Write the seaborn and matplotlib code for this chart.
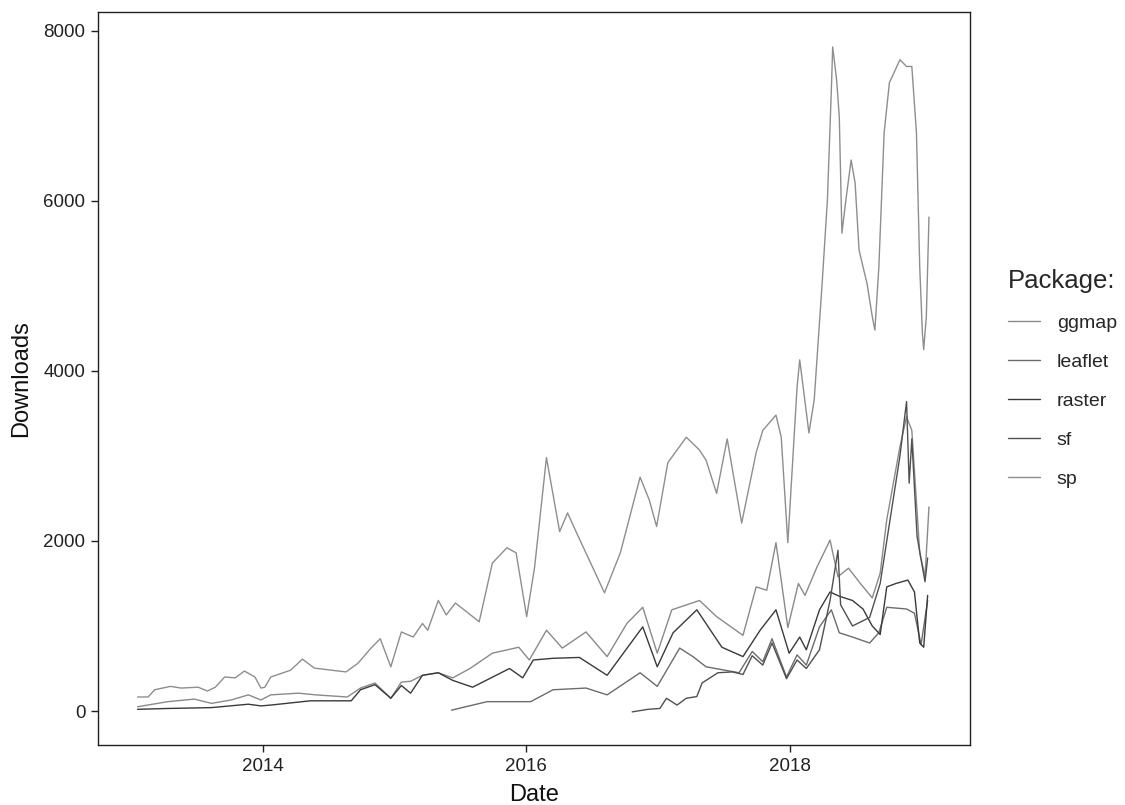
import matplotlib
matplotlib.use("Agg")
import matplotlib.pyplot as plt
import matplotlib.dates as mdates
import seaborn as sns
import pandas as pd

# values (decimal year, downloads per day)
sp_years = [2013.05, 2013.13, 2013.18, 2013.30, 2013.38, 2013.51, 2013.58, 2013.64, 2013.71, 2013.79, 2013.86, 2013.94, 2013.985,
            2014.015, 2014.06, 2014.21, 2014.30, 2014.39, 2014.52, 2014.63, 2014.72, 2014.82, 2014.89, 2014.97,
            2015.05, 2015.14, 2015.21, 2015.25, 2015.33, 2015.39, 2015.46, 2015.64, 2015.74, 2015.85, 2015.92,
            2016.00, 2016.06, 2016.15, 2016.25, 2016.31, 2016.38, 2016.59, 2016.71, 2016.86, 2016.93, 2016.985,
            2017.07, 2017.21, 2017.31, 2017.36, 2017.44, 2017.52, 2017.63, 2017.74, 2017.79, 2017.89, 2017.93, 2017.98,
            2018.05, 2018.07, 2018.14, 2018.18, 2018.24, 2018.28, 2018.31, 2018.32, 2018.35, 2018.37, 2018.39, 2018.42,
            2018.46, 2018.49, 2018.52, 2018.58, 2018.62, 2018.64, 2018.67, 2018.71, 2018.75, 2018.83, 2018.88, 2018.92,
            2018.955, 2018.98, 2019.00, 2019.01, 2019.03, 2019.05]
sp_downloads = [165, 165, 250, 290, 270, 280, 235, 280, 400, 390, 470, 400, 270,
                280, 400, 480, 610, 505, 480, 460, 560, 740, 850, 520,
                930, 870, 1030, 950, 1300, 1130, 1270, 1050, 1740, 1920, 1860,
                1110, 1690, 2980, 2110, 2330, 2090, 1390, 1860, 2750, 2480, 2170,
                2920, 3220, 3070, 2950, 2560, 3200, 2210, 3040, 3300, 3480, 3220, 1980,
                3810, 4130, 3270, 3660, 5030, 6010, 7310, 7810, 7420, 6990, 5620, 6010,
                6480, 6210, 5420, 5030, 4640, 4480, 5220, 6800, 7390, 7660, 7580, 7580,
                6800, 5220, 4450, 4250, 4640, 5810]

ggmap_years = [2013.05, 2013.28, 2013.48, 2013.61, 2013.76, 2013.89, 2013.985,
               2014.06, 2014.27, 2014.40, 2014.64, 2014.74, 2014.85, 2014.97,
               2015.05, 2015.12, 2015.21, 2015.33, 2015.44, 2015.57, 2015.74, 2015.94,
               2016.02, 2016.15, 2016.27, 2016.45, 2016.61, 2016.76, 2016.88, 2016.99,
               2017.10, 2017.31, 2017.44, 2017.64, 2017.74, 2017.82, 2017.89, 2017.98,
               2018.06, 2018.11, 2018.20, 2018.30, 2018.36, 2018.44, 2018.53, 2018.62, 2018.68,
               2018.73, 2018.83, 2018.88, 2018.92, 2018.98, 2019.02, 2019.05]
ggmap_downloads = [50, 110, 140, 90, 130, 190, 130,
                   190, 210, 190, 165, 270, 330, 150,
                   340, 350, 420, 450, 390, 500, 680, 750,
                   600, 950, 740, 930, 640, 1030, 1220, 680,
                   1190, 1300, 1110, 890, 1460, 1420, 1980, 980,
                   1500, 1360, 1690, 2010, 1580, 1680, 1500, 1330, 1620,
                   2250, 3110, 3460, 3300, 1860, 1580, 2400]

raster_years = [2013.05, 2013.28, 2013.61, 2013.89, 2013.985,
                2014.06, 2014.36, 2014.67, 2014.74, 2014.85, 2014.97,
                2015.05, 2015.12, 2015.21, 2015.33, 2015.44, 2015.59, 2015.87, 2015.97,
                2016.05, 2016.20, 2016.40, 2016.61, 2016.88, 2016.99,
                2017.11, 2017.29, 2017.48, 2017.64, 2017.77, 2017.89, 2017.99,
                2018.07, 2018.12, 2018.22, 2018.30, 2018.37, 2018.47, 2018.55, 2018.62,
                2018.68, 2018.73, 2018.80, 2018.89, 2018.94, 2018.98, 2019.01, 2019.04]
raster_downloads = [20, 30, 40, 80, 60,
                    70, 120, 120, 250, 310, 150,
                    300, 210, 420, 450, 360, 280, 500, 390,
                    600, 620, 630, 420, 990, 520,
                    920, 1190, 750, 640, 950, 1190, 680,
                    870, 720, 1190, 1400, 1350, 1300, 1200, 1000,
                    900, 1460, 1500, 1540, 1400, 800, 750, 1360]

leaflet_years = [2015.43, 2015.70,
                 2016.03, 2016.20, 2016.45, 2016.61, 2016.86, 2016.99,
                 2017.16, 2017.26, 2017.36, 2017.61, 2017.71, 2017.79, 2017.86, 2017.97,
                 2018.05, 2018.12, 2018.22, 2018.31, 2018.37, 2018.47, 2018.60, 2018.67,
                 2018.73, 2018.88, 2018.94, 2018.99, 2019.04]
leaflet_downloads = [10, 110,
                     110, 250, 270, 190, 450, 290,
                     740, 640, 520, 450, 700, 580, 850, 400,
                     660, 540, 990, 1190, 920, 870, 800, 920,
                     1220, 1200, 1150, 780, 1300]

sf_years = [2016.80, 2016.92,
            2017.01, 2017.06, 2017.14, 2017.21, 2017.29, 2017.33, 2017.45, 2017.56, 2017.64, 2017.71,
            2017.79, 2017.86, 2017.97,
            2018.05, 2018.12, 2018.22, 2018.30, 2018.36, 2018.38, 2018.47, 2018.60, 2018.68, 2018.73,
            2018.83, 2018.88, 2018.90, 2018.92, 2018.96, 2019.02, 2019.04]
sf_downloads = [-10, 20,
                30, 150, 70, 150, 170, 330, 450, 460, 430, 650,
                540, 800, 380,
                600, 500, 720, 1300, 1890, 1250, 1000, 1100, 1500, 2000,
                3000, 3640, 2680, 3200, 2050, 1520, 1800]

packages = ["ggmap", "leaflet", "raster", "sf", "sp"]
colors = {"ggmap": "#8a8a8a", "leaflet": "#6c6c6c", "raster": "#3a3a3a",
          "sf": "#505050", "sp": "#8e8e8e"}


def to_date(years):
    # decimal year -> timestamp
    s = pd.Series(years)
    return pd.to_datetime("2013-01-01") + pd.to_timedelta((s - 2013) * 365.25, unit="D")


frames = []
for name, yrs, vals in [("ggmap", ggmap_years, ggmap_downloads),
                        ("leaflet", leaflet_years, leaflet_downloads),
                        ("raster", raster_years, raster_downloads),
                        ("sf", sf_years, sf_downloads),
                        ("sp", sp_years, sp_downloads)]:
    frames.append(pd.DataFrame({"Date": to_date(yrs), "Downloads": vals, "Package": name}))
df = pd.concat(frames, ignore_index=True)

sns.set_style("white")
plt.rcParams["font.family"] = ["Liberation Sans", "DejaVu Sans"]

fig = plt.figure(figsize=(11.25, 8.05), dpi=100)
ax = fig.add_axes([0.0871, 0.0745, 0.775, 0.9105])

sns.lineplot(data=df, x="Date", y="Downloads", hue="Package", hue_order=packages,
             palette=colors, estimator=None, linewidth=1.0, ax=ax)

ax.set_xlim(to_date([2012.75])[0], to_date([2019.36])[0])
ax.set_ylim(-400, 8220)
ax.set_yticks([0, 2000, 4000, 6000, 8000])
ax.xaxis.set_major_locator(mdates.YearLocator(2))
ax.xaxis.set_major_formatter(mdates.DateFormatter("%Y"))

for sp_ in ax.spines.values():
    sp_.set_color("#222222")
    sp_.set_linewidth(1.0)
ax.tick_params(axis="both", direction="out", length=5, width=1, color="#222222",
               labelsize=13.5, labelcolor="#222222", bottom=True, left=True, pad=4)
ax.set_xlabel("Date", fontsize=17, color="#111111", labelpad=7)
ax.set_ylabel("Downloads", fontsize=17, color="#111111", labelpad=8)

ax.legend(title="Package:", loc="center left", bbox_to_anchor=(1.024, 0.5),
          frameon=False, fontsize=14, title_fontsize=18.5, handlelength=1.65,
          labelspacing=1.1, handletextpad=0.85)
ax.get_legend()._legend_box.align = "left"

fig.savefig("out.png", dpi=100)
